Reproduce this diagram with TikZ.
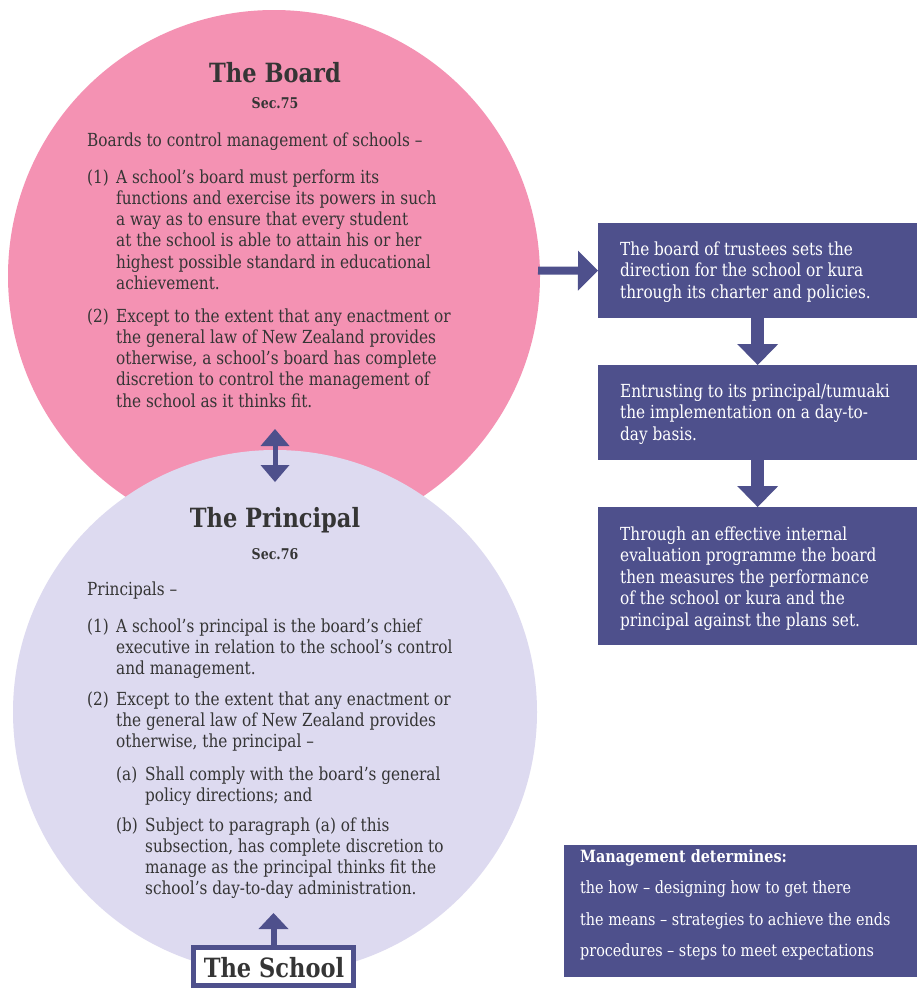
\documentclass[tikz,border=0pt]{standalone}
\usepackage{fontspec}
\setmainfont{DejaVu Serif}[FakeStretch=0.85]
\usetikzlibrary{arrows.meta}
\definecolor{boardpink}{HTML}{F492B3}
\definecolor{princlav}{HTML}{DDDAF0}
\definecolor{navy}{HTML}{4E508C}
\definecolor{ink}{HTML}{353535}
\tikzset{
  body/.style={anchor=base west, inner sep=0pt, align=left, text=ink, font=\fontsize{18}{21.3}\selectfont},
  lbl/.style={anchor=base west, inner sep=0pt, text=ink, font=\fontsize{18}{21.3}\selectfont},
  titletxt/.style={anchor=base, inner sep=0pt, text=ink, font=\bfseries\fontsize{26.5}{30}\selectfont},
  sectxt/.style={anchor=base, inner sep=0pt, text=ink, font=\bfseries\fontsize{14.8}{17}\selectfont},
  boxtxt/.style={anchor=base west, inner sep=0pt, align=left, text=white, font=\fontsize{18}{21.6}\selectfont},
  mgtxt/.style={anchor=base west, inner sep=0pt, text=white, font=\fontsize{16.9}{20}\selectfont},
  navybox/.style={fill=navy, draw=none, inner sep=0pt, anchor=north west},
  disc/.style={circle, inner sep=0pt, draw=none},
  fatarrow/.style={draw=navy, line width=#1},
}
\begin{document}
\begin{tikzpicture}[x=1pt,y=-1pt]
\useasboundingbox[fill=white] (0,0) rectangle (917,988);

% circles
\node[disc, fill=boardpink, minimum size=532pt] (board) at (274,276) {};
\node[disc, fill=princlav, minimum size=524pt] (principal) at (275,712) {};

% right boxes
\node[navybox, minimum width=319pt, minimum height=95pt] (box1) at (598,223) {};
\node[navybox, minimum width=319pt, minimum height=95pt] (box2) at (598,365) {};
\node[navybox, minimum width=319pt, minimum height=138pt] (box3) at (598,507) {};
\node[navybox, minimum width=353pt, minimum height=132pt] (mgmt) at (564,845) {};

% school box
\node[draw=navy, line width=5pt, fill=white, minimum width=160pt, minimum height=38pt, inner sep=0pt] (school) at (273.5,966.5) {};
\node[anchor=base, inner sep=0pt, text=ink, font=\bfseries\fontsize{26.5}{30}\selectfont] (schooltxt) at (274,977) {The School};

% Board text (multi-line nodes are placed by the baseline of their last line)
\node[titletxt] (boardtitle) at (275,82) {The Board};
\node[sectxt] (boardsec) at (275,108) {Sec.75};
\node[lbl] (bintro) at (87,146) {Boards to control management of schools –};
\node[lbl] (b1l) at (87,183) {(1)};
\node[body] (b1t) at (116,289.5) {A school’s board must perform its\\
functions and exercise its powers in such\\
a way as to ensure that every student\\
at the school is able to attain his or her\\
highest possible standard in educational\\
achievement.};
\node[lbl] (b2l) at (87,322) {(2)};
\node[body] (b2t) at (116,407.2) {Except to the extent that any enactment or\\
the general law of New Zealand provides\\
otherwise, a school’s board has complete\\
discretion to control the management of\\
the school as it thinks fit.};

% Principal text
\node[titletxt] (ptitle) at (275,527) {The Principal};
\node[sectxt] (psec) at (275,559) {Sec.76};
\node[lbl] (pintro) at (87,595) {Principals –};
\node[lbl] (p1l) at (87,632) {(1)};
\node[body] (p1t) at (116,674.6) {A school’s principal is the board’s chief\\
executive in relation to the school’s control\\
and management.};
\node[lbl] (p2l) at (87,705) {(2)};
\node[body] (p2t) at (116,747.6) {Except to the extent that any enactment or\\
the general law of New Zealand provides\\
otherwise, the principal –};
\node[lbl] (pal) at (116,780) {(a)};
\node[body] (pat) at (145,801.3) {Shall comply with the board’s general\\
policy directions; and};
\node[lbl] (pbl) at (116,831) {(b)};
\node[body] (pbt) at (145,894.9) {Subject to paragraph (a) of this\\
subsection, has complete discretion to\\
manage as the principal thinks fit the\\
school’s day-to-day administration.};

% box texts
\node[boxtxt] (t1) at (620,298.2) {The board of trustees sets the\\
direction for the school or kura\\
through its charter and policies.};
\node[boxtxt] (t2) at (620,440.2) {Entrusting to its principal/tumuaki\\
the implementation on a day-to-\\
day basis.};
\node[boxtxt] (t3) at (620,626.4) {Through an effective internal\\
evaluation programme the board\\
then measures the performance\\
of the school or kura and the\\
principal against the plans set.};

\node[mgtxt, font=\bfseries\fontsize{16.9}{20}\selectfont] (m0) at (580,862) {Management determines:};
\node[mgtxt] (m1) at (580,893.5) {the how – designing how to get there};
\node[mgtxt] (m2) at (580,925) {the means – strategies to achieve the ends};
\node[mgtxt] (m3) at (580,956.5) {procedures – steps to meet expectations};

% connectors
\coordinate (boardedge) at (538,270.5);
\draw[fatarrow=8pt, -{Triangle[length=20pt,width=40pt,line width=0pt]}] (boardedge) -- (box1.west);
\draw[fatarrow=13pt, -{Triangle[length=21pt,width=41pt,line width=0pt]}] (box1.south) -- (box2.north);
\draw[fatarrow=13pt, -{Triangle[length=21pt,width=41pt,line width=0pt]}] (box2.south) -- (box3.north);
\coordinate (dtop) at (275,429);
\coordinate (dbot) at (275,482);
\draw[fatarrow=5pt, {Triangle[length=17pt,width=29pt,line width=0pt]}-{Triangle[length=17pt,width=29pt,line width=0pt]}] (dtop) -- (dbot);
\coordinate (schooltip) at (273.5,913);
\draw[fatarrow=6pt, -{Triangle[length=16pt,width=30pt,line width=0pt]}] (school.north) -- (schooltip);
\end{tikzpicture}
\end{document}
